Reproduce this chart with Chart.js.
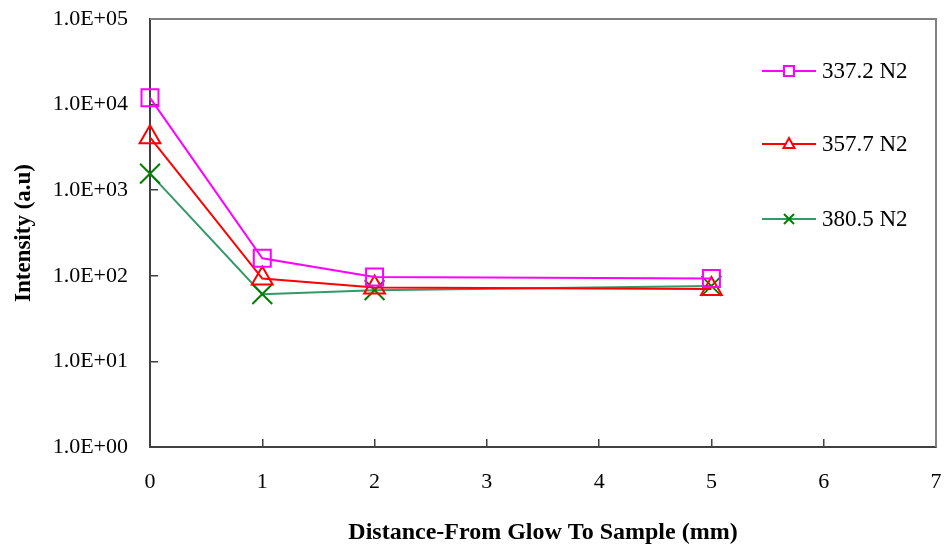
<!DOCTYPE html>
<html>
<head>
<meta charset="utf-8">
<script src="https://cdn.jsdelivr.net/npm/chart.js"></script>
<style>
  body { margin: 0; background: #fff; }
  #wrap { width: 946px; height: 555px; }
</style>
</head>
<body>
<div id="wrap"><canvas id="chart" width="946" height="555"></canvas></div>
<script>
// values
const distances = [0, 1, 2, 5];
const n2_337 = [12000, 160, 97, 93];
const n2_357 = [4150, 93, 73, 70];
const n2_380 = [1560, 61, 68, 76];
const seriesNames = ['337.2 N2', '357.7 N2', '380.5 N2'];
const yTicks = [1, 10, 100, 1000, 10000, 100000];
const yTickLabels = ['1.0E+00', '1.0E+01', '1.0E+02', '1.0E+03', '1.0E+04', '1.0E+05'];

const serif = 'Liberation Serif, Times New Roman, serif';

const toPoints = vals => vals.map((v, i) => ({ x: distances[i], y: v }));

// no extra room for overflowing tick labels, the layout padding handles it
const noOverflow = s => {
  s.paddingTop = 0;
  s.paddingBottom = 0;
  s.paddingLeft = 0;
  s.paddingRight = 0;
};

// gray frame on top and right like the Excel plot area
const framePlugin = {
  id: 'frame',
  beforeDatasetsDraw(chart) {
    const { ctx, chartArea: a } = chart;
    ctx.save();
    ctx.strokeStyle = '#808080';
    ctx.lineWidth = 2;
    ctx.beginPath();
    ctx.moveTo(a.left, a.top);
    ctx.lineTo(a.right, a.top);
    ctx.lineTo(a.right, a.bottom);
    ctx.stroke();
    ctx.restore();
  }
};

// legend with a line through the marker, sitting inside the plot
const legendPlugin = {
  id: 'lineLegend',
  afterDatasetsDraw(chart) {
    const ctx = chart.ctx;
    const rows = [71, 144, 219];
    ctx.save();
    chart.data.datasets.forEach((ds, i) => {
      const y = rows[i];
      const x0 = 762, x1 = 816, cx = 789;
      ctx.strokeStyle = ds.borderColor;
      ctx.lineWidth = 2;
      ctx.beginPath();
      ctx.moveTo(x0, y);
      ctx.lineTo(x1, y);
      ctx.stroke();
      ctx.strokeStyle = ds.pointBorderColor;
      ctx.fillStyle = '#fff';
      ctx.beginPath();
      if (ds.pointStyle === 'rect') {
        ctx.rect(cx - 5, y - 5, 10, 10);
        ctx.fill();
      } else if (ds.pointStyle === 'triangle') {
        ctx.moveTo(cx, y - 6);
        ctx.lineTo(cx + 5.5, y + 4);
        ctx.lineTo(cx - 5.5, y + 4);
        ctx.closePath();
        ctx.fill();
      } else {
        ctx.moveTo(cx - 5, y - 5);
        ctx.lineTo(cx + 5, y + 5);
        ctx.moveTo(cx + 5, y - 5);
        ctx.lineTo(cx - 5, y + 5);
      }
      ctx.stroke();
      ctx.fillStyle = '#000';
      ctx.font = '23px ' + serif;
      ctx.textBaseline = 'middle';
      ctx.fillText(ds.label, 822, y + 1);
    });
    ctx.restore();
  }
};

new Chart(document.getElementById('chart'), {
  type: 'line',
  data: {
    datasets: [
      {
        label: seriesNames[0],
        data: toPoints(n2_337),
        borderColor: '#FF00FF',
        pointBorderColor: '#FF00FF',
        pointStyle: 'rect',
        pointRadius: 12
      },
      {
        label: seriesNames[1],
        data: toPoints(n2_357),
        borderColor: '#FF0000',
        pointBorderColor: '#FF0000',
        pointStyle: 'triangle',
        pointRadius: 12
      },
      {
        label: seriesNames[2],
        data: toPoints(n2_380),
        borderColor: '#339966',
        pointBorderColor: '#008000',
        pointStyle: 'crossRot',
        pointRadius: 14
      }
    ]
  },
  options: {
    responsive: false,
    animation: false,
    layout: { autoPadding: false, padding: { top: 19, right: 10, left: 0, bottom: 0 } },
    datasets: { line: { clip: false } },
    elements: {
      line: { borderWidth: 2, tension: 0, fill: false },
      point: { borderWidth: 2, backgroundColor: 'rgba(0,0,0,0)', hoverRadius: 12 }
    },
    plugins: { legend: { display: false }, tooltip: { enabled: false } },
    scales: {
      x: {
        type: 'linear',
        min: 0,
        max: 7,
        ticks: { stepSize: 1, color: '#000', padding: 30, font: { family: serif, size: 22 } },
        grid: { drawOnChartArea: false, drawTicks: true, tickLength: -8, color: '#404040', lineWidth: 1.5 },
        border: { color: '#404040', width: 2 },
        title: {
          display: true,
          text: 'Distance-From Glow To Sample (mm)',
          color: '#000',
          font: { family: serif, size: 24, weight: 'bold' },
          padding: { top: 0, bottom: 8 }
        },
        afterFit: s => { s.height = 108; noOverflow(s); }
      },
      y: {
        type: 'logarithmic',
        min: 1,
        max: 100000,
        afterBuildTicks: s => { s.ticks = yTicks.map(v => ({ value: v })); },
        ticks: {
          color: '#000',
          padding: 30,
          font: { family: serif, size: 22 },
          callback: (v) => yTickLabels[yTicks.indexOf(v)]
        },
        grid: { drawOnChartArea: false, drawTicks: true, tickLength: -8, color: '#404040', lineWidth: 1.5 },
        border: { color: '#404040', width: 2 },
        title: {
          display: true,
          text: 'Intensity (a.u)',
          color: '#000',
          font: { family: serif, size: 23, weight: 'bold' },
          padding: { top: 10, bottom: 0 }
        },
        afterFit: s => { s.width = 150; noOverflow(s); }
      }
    }
  },
  plugins: [framePlugin, legendPlugin]
});
</script>
</body>
</html>
